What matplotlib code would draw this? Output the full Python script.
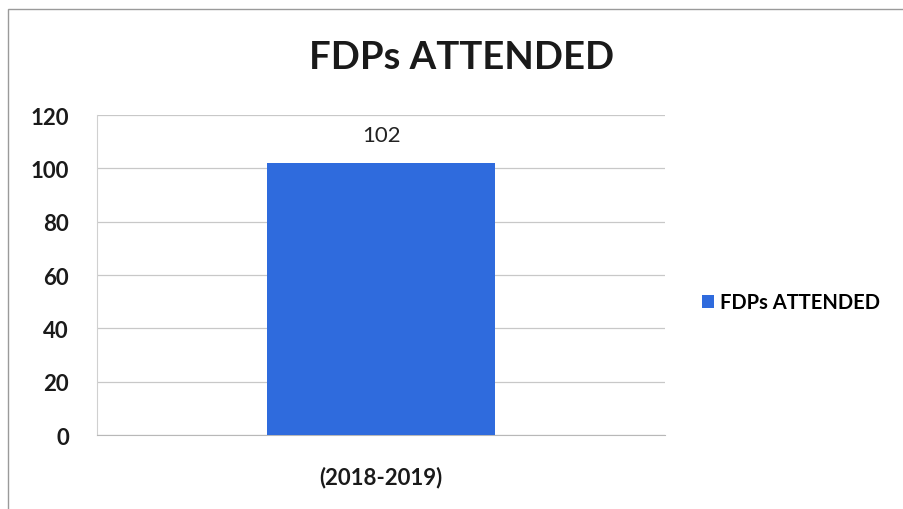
import numpy as np
import matplotlib.pyplot as plt
from matplotlib.patches import Rectangle

plt.rcParams['font.family'] = ['Lato', 'DejaVu Sans']

# data
years = ['(2018-2019)']
fdps = [102]
series_name = 'FDPs ATTENDED'

fig = plt.figure(figsize=(9.04, 5.10), dpi=100)
ax = fig.add_axes([0.107, 0.145, 0.629, 0.6275])

x = np.arange(len(years))
bars = ax.bar(x, fdps, width=0.4, color='#2F6BDD', label=series_name, zorder=3)
for b, v in zip(bars, fdps):
    ax.text(b.get_x() + b.get_width() / 2, v + 10.5, str(v), ha='center', va='center',
            fontsize=16, color='#222222')

ax.set_xlim(-0.5, 0.5)
ax.set_ylim(0, 120)
ax.set_yticks(range(0, 121, 20))
ax.set_xticks(x)
ax.set_xticklabels(years)
ax.grid(axis='y', color='#c8c8c8', linewidth=0.9, zorder=0)
for s in ['top', 'right']:
    ax.spines[s].set_visible(False)
ax.spines['left'].set_color('#d0d0d0')
ax.spines['bottom'].set_color('#b8b8b8')
ax.tick_params(axis='y', length=0, pad=20, labelsize=16, labelcolor='#1a1a1a')
ax.tick_params(axis='x', length=0, pad=22, labelsize=16, labelcolor='#1a1a1a')
for lab in ax.get_yticklabels() + ax.get_xticklabels():
    lab.set_fontweight('bold')

fig.text(0.511, 0.886, 'FDPs ATTENDED', ha='center', va='center',
         fontsize=27.5, fontweight='bold', color='#1a1a1a')

fig.legend(loc='center left', bbox_to_anchor=(0.768, 0.405), frameon=False,
           handlelength=0.6, handleheight=0.6, handletextpad=0.3, borderaxespad=0,
           prop={'size': 14.5, 'weight': 'bold'})

fig.patches.append(Rectangle((0.009, -0.01), 1.1, 0.99, transform=fig.transFigure,
                             fill=False, edgecolor='#9a9a9a', linewidth=1.0))

fig.savefig('out.png', dpi=100)
